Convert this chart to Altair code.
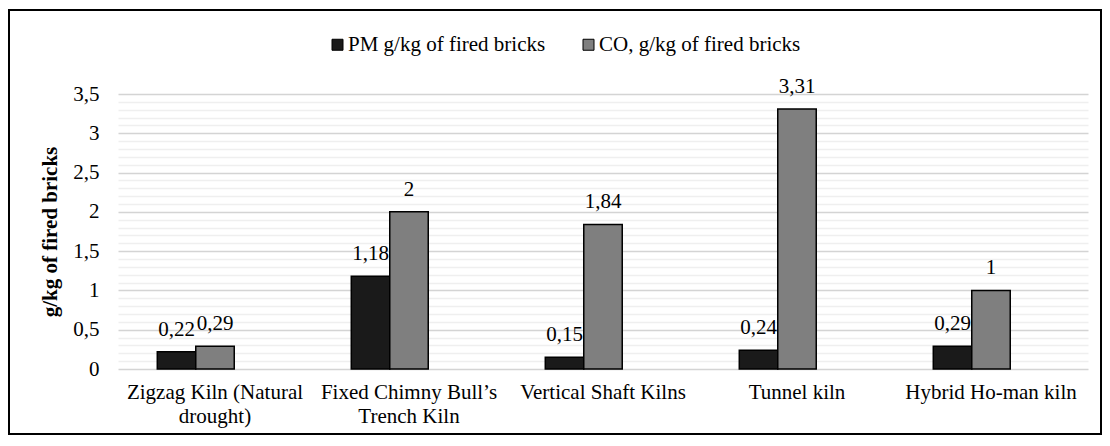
import json
import altair as alt
import pandas as pd

categories = [
    "Zigzag Kiln (Natural drought)",
    "Fixed Chimny Bull’s Trench Kiln",
    "Vertical Shaft Kilns",
    "Tunnel kiln",
    "Hybrid Ho-man kiln",
]
label_lines = {
    "Zigzag Kiln (Natural drought)": ["Zigzag Kiln (Natural", "drought)"],
    "Fixed Chimny Bull’s Trench Kiln": ["Fixed Chimny Bull’s", "Trench Kiln"],
}
series_names = ["PM g/kg of fired bricks", "CO, g/kg of fired bricks"]
pm_values = [0.22, 1.18, 0.15, 0.24, 0.29]
co_values = [0.29, 2, 1.84, 3.31, 1]
series_colors = ["#1a1a1a", "#7f7f7f"]
y_ticks = [round(i * 0.1, 1) for i in range(36)]

rows = []
for c, p, q in zip(categories, pm_values, co_values):
    rows.append({"kiln": c, "series": series_names[0], "value": p})
    rows.append({"kiln": c, "series": series_names[1], "value": q})
df = pd.DataFrame(rows)

FONT = "Liberation Serif"
FS = 21

# x label expression (two-line labels)
expr = "datum.label"
for k, v in label_lines.items():
    expr = f"datum.label == {json.dumps(k, ensure_ascii=False)} ? {json.dumps(v, ensure_ascii=False)} : ({expr})"

is_major = "abs(datum.value*2 - round(datum.value*2)) < 0.001"

x_enc = alt.X(
    "kiln:N",
    sort=categories,
    scale=alt.Scale(paddingInner=0.405, paddingOuter=0.2025),
    axis=alt.Axis(
        title=None, labelAngle=0, ticks=False, domain=False, labelPadding=12,
        labelExpr=expr, labelFont=FONT, labelFontSize=FS, labelColor="#000000",
        labelLineHeight=24, labelLimit=400,
    ),
)
xoff_enc = alt.XOffset(
    "series:N",
    scale=alt.Scale(domain=series_names + ["_blank"], paddingInner=0, paddingOuter=0),
)
y_enc = alt.Y(
    "value:Q",
    scale=alt.Scale(domain=[0, 3.5], nice=False),
    axis=alt.Axis(
        title="g/kg of fired bricks",
        values=y_ticks,
        ticks=False,
        domain=False,
        labelPadding=19,
        labelOverlap=False,
        labelExpr=f"{is_major} ? replace(format(datum.value, '~g'), '.', ',') : ''",
        labelFont=FONT, labelFontSize=FS, labelColor="#000000",
        gridColor={"condition": {"test": is_major, "value": "#d4d4d4"}, "value": "#efefef"},
        gridWidth=1.6,
        titleFont=FONT, titleFontSize=FS, titleFontWeight="bold", titleColor="#000000",
        titleAngle=270, titleX=-68, titleY=137.5, titleAlign="center", titleBaseline="middle",
    ),
)

bars = alt.Chart(df).mark_bar(stroke="#000000", strokeWidth=1.5).encode(
    x=x_enc,
    xOffset=xoff_enc,
    y=y_enc,
    color=alt.Color(
        "series:N",
        scale=alt.Scale(domain=series_names, range=series_colors),
        legend=alt.Legend(
            orient="none", legendX=209, legendY=-60, direction="horizontal", title=None,
            symbolType="square", symbolSize=121, symbolStrokeColor="#000000",
            symbolStrokeWidth=1, labelFont=FONT, labelFontSize=FS, labelColor="#000000",
            labelOffset=0, columnPadding=32, padding=0, labelLimit=400,
        ),
    ),
)

texts = alt.Chart(df).transform_calculate(
    label="replace(format(datum.value, '.2~f'), '.', ',')"
).mark_text(font=FONT, fontSize=FS, color="#000000", baseline="alphabetic", dy=-16).encode(
    x=x_enc,
    xOffset=xoff_enc,
    y=y_enc,
    text="label:N",
)

frame = alt.Chart(pd.DataFrame({"a": [0]})).mark_rect(
    fillOpacity=0, stroke="#000000", strokeWidth=2
).encode(
    x=alt.value(-109), x2=alt.value(983), y=alt.value(-84), y2=alt.value(340)
)

chart = alt.layer(bars, texts, frame).properties(
    width=970,
    height=275,
    autosize=alt.AutoSizeParams(type="none"),
    padding={"left": 110, "top": 86, "right": 14, "bottom": 67},
).configure(font=FONT, background="white").configure_view(stroke=None)

chart.save("out.html", embed_options={"renderer": "svg", "actions": False})
